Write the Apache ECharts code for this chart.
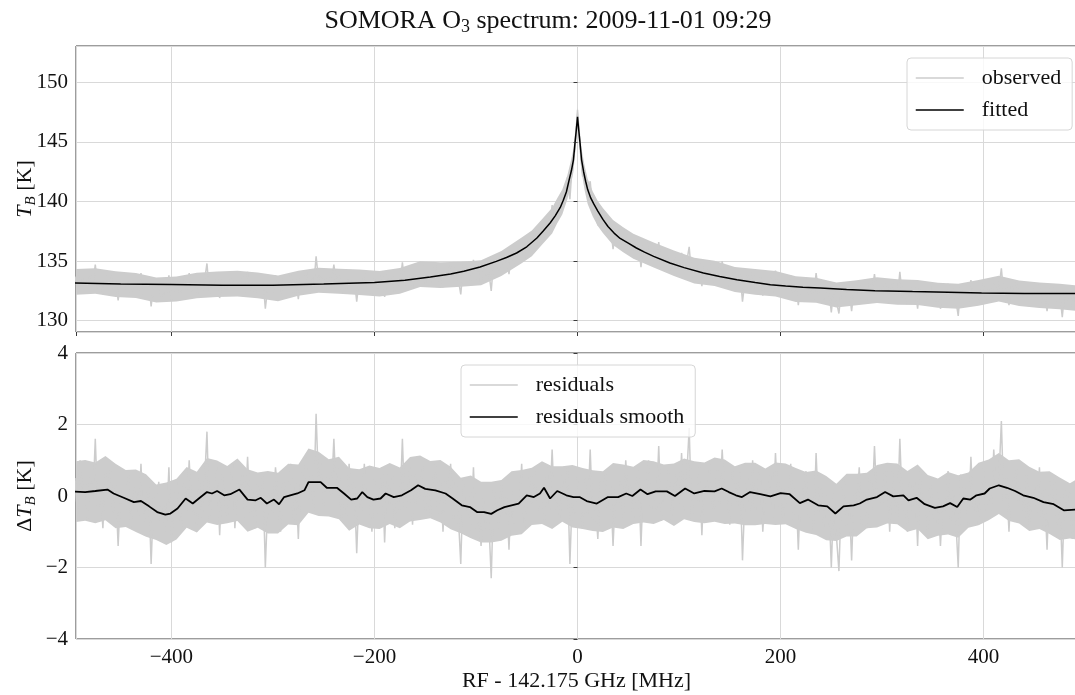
<!DOCTYPE html>
<html><head><meta charset="utf-8">
<script src="https://cdn.jsdelivr.net/npm/echarts@6/dist/echarts.min.js"></script>
<style>html,body{margin:0;padding:0;background:#fff}#c{width:1075px;height:695px}</style>
</head><body><div id="c"></div>
<script>
// Spectrometer channel grid (MHz offset from 142.175 GHz)
const chanStartMHz = -495;
const chanStepMHz = 2.5;

// Observed brightness temperature T_B [K], one value per channel
const observed = [
133.7,132.7,134.2,133.2,133.6,132.5,133.9,133.0,134.7,132.7,133.3,132.2,133.8,133.0,134.0,132.6,133.4,131.7,133.3,132.7,
132.7,133.7,132.2,133.1,133.4,132.5,134.0,132.2,133.0,133.4,131.2,133.0,132.5,133.4,131.9,132.8,132.0,133.8,131.7,132.7,
133.4,132.5,132.1,133.5,132.5,134.0,132.5,132.9,132.0,133.5,132.4,133.3,134.8,132.3,133.2,132.8,133.8,131.9,133.6,132.9,
132.4,133.4,133.9,132.1,133.4,133.1,133.7,132.4,134.1,132.5,133.2,132.1,133.4,132.6,133.6,131.0,132.9,133.2,132.4,133.8,
133.0,132.0,133.5,133.1,132.7,133.9,132.3,133.5,131.8,133.7,133.1,134.2,133.0,133.8,132.7,135.4,133.3,134.0,132.8,133.6,
133.6,133.1,134.7,133.0,133.9,132.4,133.4,132.5,134.0,132.9,133.6,131.6,133.5,132.7,134.1,132.9,133.2,132.2,133.7,132.7,
133.0,134.1,132.0,133.9,133.0,133.9,132.4,133.4,132.9,134.9,132.9,133.4,134.2,132.7,134.1,133.3,133.7,134.6,133.1,134.1,
133.1,134.1,134.6,133.3,134.3,132.8,134.3,133.8,134.8,133.3,134.5,133.5,132.2,134.6,133.8,134.2,133.3,135.1,133.5,134.1,
133.1,134.6,133.8,134.2,132.5,135.1,134.9,134.2,135.5,134.6,135.4,133.9,135.8,134.8,135.6,135.4,136.8,135.2,135.9,137.0,
136.4,137.6,136.3,137.1,137.8,137.0,138.7,137.8,139.7,138.2,139.3,138.7,140.5,140.2,142.0,140.2,143.3,144.4,147.7,144.6,
142.1,142.4,140.5,141.7,139.3,139.5,138.0,139.3,138.2,138.9,137.3,138.0,136.0,137.4,136.8,137.3,136.2,137.6,136.4,136.7,
135.6,136.3,136.7,134.5,136.3,135.7,136.6,135.0,135.8,134.9,136.6,134.4,135.3,134.8,135.7,134.1,134.9,135.3,134.3,135.7,
134.1,134.9,136.2,133.6,134.4,134.0,134.9,132.9,134.6,133.9,134.8,133.7,133.2,134.6,133.5,135.0,133.5,133.8,132.8,134.2,
134.0,133.1,134.1,131.6,133.4,133.8,132.9,134.2,132.7,133.6,133.9,132.1,133.3,133.0,133.6,132.4,134.2,132.7,133.3,132.2,
133.1,132.6,133.8,132.2,133.1,131.3,133.2,132.5,133.5,132.2,132.9,131.8,134.0,132.3,132.9,131.8,132.7,132.6,130.7,132.8,
131.6,130.6,132.8,133.2,131.7,132.6,130.8,132.8,132.3,133.4,131.8,132.7,131.7,133.1,132.2,133.9,132.3,132.8,132.2,133.2,
133.2,131.5,133.2,132.4,131.9,134.1,132.0,132.5,131.4,132.9,132.0,132.8,131.0,133.1,132.1,132.5,131.4,132.9,131.9,131.6,
132.5,131.0,132.4,132.0,133.1,131.6,132.7,131.8,130.4,132.9,132.1,132.5,131.5,133.4,131.8,132.4,131.5,132.5,133.1,131.8,
132.6,131.9,133.6,132.4,132.7,134.4,132.0,132.8,131.3,132.9,132.2,133.2,131.9,132.6,131.6,132.9,131.5,132.2,132.7,131.8,
133.1,131.4,132.5,130.8,132.7,132.0,132.8,131.5,132.3,130.3,132.5,131.7,132.4,131.1,132.2,132.1,131.1,132.5,132.0,131.6
];

// Solid core of the observed trace (where the dense gray is unbroken)
const obsCoreFreq = [-495,-475,-455,-435,-415,-395,-375,-355,-335,-315,-295,-275,-255,-235,-215,-195,-175,-155,-135,-115,-95,-75,-55,-45,-35,-25,-20,-15,-10,-7,-4,-2,0,2,4,7,10,15,20,25,35,45,55,75,95,115,135,155,175,195,215,235,255,275,295,315,335,355,375,395,415,435,455,475,495,505];
const obsCoreHigh = [134.33,134.41,134.14,134.00,133.62,133.71,134.03,134.13,134.18,134.04,133.79,134.20,134.45,134.35,134.30,134.17,134.42,134.98,134.90,134.95,135.08,135.84,136.97,137.56,138.52,139.47,140.27,141.0,142.2,143.25,144.4,146.2,147.9,146.2,144.4,143.0,141.9,140.85,140.05,139.45,138.45,137.85,137.3,136.57,135.89,135.28,135.02,134.50,134.33,134.17,133.72,133.61,133.21,133.40,133.64,133.48,133.41,133.19,133.10,133.41,133.76,133.38,133.21,133.10,132.94,132.94];
const obsCoreLow = [132.18,132.26,131.99,131.90,131.52,131.61,131.88,131.98,132.03,131.89,131.64,132.10,132.35,132.25,132.15,132.02,132.27,132.83,132.75,132.85,132.98,133.74,134.82,135.41,136.37,137.32,138.17,138.9,140.2,141.25,142.5,144.4,146.2,144.4,142.5,140.95,139.8,138.75,137.95,137.35,136.35,135.75,135.2,134.47,133.74,133.13,132.92,132.40,132.18,132.02,131.57,131.51,131.11,131.30,131.49,131.33,131.31,131.09,131.00,131.26,131.61,131.23,131.06,130.95,130.79,130.79];

// Residuals ΔT_B [K], one value per channel
const residuals = [
0.5,-0.5,1.0,0.0,0.4,-0.7,0.7,-0.2,1.6,-0.4,0.2,-0.9,0.7,-0.1,0.9,-0.5,0.3,-1.4,0.2,-0.4,
-0.4,0.6,-0.9,0.0,0.3,-0.6,0.9,-0.9,-0.1,0.3,-1.9,0.0,-0.5,0.4,-1.1,-0.2,-1.0,0.8,-1.3,-0.3,
0.4,-0.5,-0.9,0.5,-0.5,1.0,-0.5,-0.1,-1.0,0.5,-0.6,0.3,1.8,-0.7,0.2,-0.2,0.8,-1.1,0.6,-0.1,
-0.6,0.4,0.9,-0.9,0.4,0.1,0.7,-0.6,1.1,-0.5,0.2,-0.9,0.4,-0.4,0.6,-2.0,-0.1,0.2,-0.6,0.8,
0.0,-1.0,0.5,0.1,-0.3,0.9,-0.7,0.5,-1.2,0.7,0.1,1.1,-0.1,0.7,-0.4,2.3,0.2,0.9,-0.3,0.5,
0.5,0.0,1.6,-0.1,0.8,-0.7,0.3,-0.6,0.9,-0.2,0.4,-1.6,0.3,-0.5,0.9,-0.3,0.0,-1.0,0.5,-0.5,
-0.2,0.8,-1.3,0.6,-0.3,0.6,-0.9,0.1,-0.4,1.6,-0.5,0.0,0.8,-0.8,0.6,-0.2,0.1,1.0,-0.5,0.5,
-0.6,0.4,0.9,-0.5,0.5,-1.0,0.4,-0.1,0.9,-0.7,0.5,-0.5,-1.9,0.5,-0.4,0.0,-1.0,0.8,-0.9,-0.4,
-1.4,0.0,-0.9,-0.6,-2.3,0.2,-0.1,-0.9,0.4,-0.6,0.1,-1.5,0.3,-0.8,-0.1,-0.4,0.9,-0.9,-0.3,0.6,
-0.2,0.8,-0.6,-0.1,0.4,-0.7,0.8,-0.4,1.3,-0.5,0.2,-0.7,0.6,-0.3,0.8,-1.9,0.2,-0.5,0.6,-0.3,
-0.9,0.5,-0.5,1.3,-0.7,-0.1,-1.2,0.4,-0.3,0.7,-0.6,0.3,-1.4,0.2,-0.3,0.4,-0.6,1.0,-0.1,0.3,
-0.7,0.2,0.7,-1.4,0.5,0.0,1.0,-0.5,0.4,-0.4,1.4,-0.7,0.2,-0.2,0.8,-0.7,0.2,0.6,-0.3,1.2,
-0.4,0.5,1.9,-0.7,0.2,-0.2,0.8,-1.1,0.6,0.0,0.9,-0.1,-0.6,0.8,-0.2,1.3,-0.1,0.2,-0.8,0.7,
0.5,-0.3,0.7,-1.8,0.1,0.5,-0.4,1.0,-0.5,0.4,0.8,-1.0,0.2,-0.1,0.6,-0.6,1.2,-0.3,0.4,-0.7,
0.2,-0.3,0.9,-0.7,0.3,-1.5,0.4,-0.3,0.7,-0.6,0.1,-1.0,1.2,-0.5,0.2,-0.9,0.0,-0.1,-2.0,0.1,
-1.1,-2.1,0.1,0.5,-0.9,0.0,-1.8,0.2,-0.3,0.8,-0.8,0.1,-0.9,0.5,-0.4,1.4,-0.2,0.3,-0.3,0.7,
0.7,-1.0,0.7,-0.1,-0.6,1.6,-0.4,0.1,-1.0,0.5,-0.4,0.4,-1.4,0.7,-0.3,0.1,-1.0,0.5,-0.5,-0.8,
0.1,-1.4,0.0,-0.4,0.7,-0.8,0.3,-0.6,-2.0,0.6,-0.2,0.2,-0.8,1.1,-0.5,0.1,-0.8,0.2,0.8,-0.5,
0.3,-0.4,1.3,0.1,0.4,2.1,-0.3,0.5,-1.0,0.6,-0.1,0.9,-0.4,0.3,-0.7,0.6,-0.8,-0.1,0.4,-0.5,
0.8,-0.9,0.2,-1.5,0.4,-0.3,0.5,-0.8,0.0,-2.0,0.2,-0.6,0.1,-1.2,-0.1,-0.2,-1.2,0.2,-0.3,-0.7
];

// Solid core of the residual trace, every 10 MHz from -495 MHz
const resCoreStartMHz = -495;
const resCoreStepMHz = 10;
const resCoreHigh = [0.97,1.01,0.94,1.12,0.90,0.73,0.74,0.61,0.32,0.38,0.48,0.81,0.68,1.06,0.99,0.84,1.05,0.75,0.66,0.70,0.65,0.90,0.88,1.33,1.24,1.03,1.10,0.78,0.75,0.85,0.78,0.92,0.80,1.09,1.13,0.98,1.01,0.82,0.51,0.57,0.40,0.40,0.45,0.69,0.73,0.79,0.97,0.83,0.83,0.87,0.78,0.72,0.69,0.92,0.88,0.82,1.01,0.97,0.88,0.91,1.05,0.97,0.94,1.08,1.02,0.83,0.93,0.93,0.77,0.94,0.91,0.78,0.67,0.71,0.56,0.34,0.62,0.62,0.65,0.87,0.93,0.91,0.70,0.88,0.59,0.49,0.67,0.58,0.66,0.93,1.02,1.20,1.00,1.03,0.82,0.68,0.69,0.52,0.36,0.52,0.47];
const resCoreLow = [-0.73,-0.69,-0.76,-0.68,-0.90,-0.87,-1.01,-1.14,-1.23,-1.37,-1.22,-0.89,-1.02,-0.74,-0.81,-0.76,-0.70,-1.00,-0.89,-1.05,-1.05,-0.80,-0.82,-0.47,-0.56,-0.57,-0.65,-0.97,-0.80,-0.90,-0.92,-0.78,-0.90,-0.71,-0.67,-0.62,-0.74,-0.93,-1.04,-1.18,-1.30,-1.30,-1.25,-1.11,-1.07,-0.81,-0.78,-0.92,-0.72,-0.88,-0.92,-0.98,-1.01,-0.88,-0.92,-0.78,-0.74,-0.78,-0.67,-0.84,-0.65,-0.73,-0.76,-0.72,-0.78,-0.77,-0.82,-0.82,-0.78,-0.81,-0.79,-0.92,-1.03,-1.09,-1.24,-1.26,-1.13,-1.13,-0.90,-0.88,-0.77,-0.79,-1.00,-0.92,-1.21,-1.11,-1.08,-1.17,-0.89,-0.82,-0.68,-0.50,-0.70,-0.77,-0.98,-0.92,-1.06,-1.23,-1.19,-1.23,-1.23];

// Fitted spectrum
const fittedFreq = [-495,-450,-400,-350,-300,-250,-200,-170,-145,-125,-112,-96,-80,-70,-60,-50,-40,-34,-27,-22,-17,-14,-11,-8,-6,-4,-2.5,-1.2,0,1.2,2.5,4,6,8,10,13,16,20,25,30,36,42,50,58,66,75,91,105,124,140,157,175,190,205,222,239,265,293,330,365,398,440,492];
const fittedTB = [133.16,133.08,133.03,132.98,132.98,133.07,133.21,133.4,133.66,133.92,134.14,134.5,134.98,135.3,135.68,136.2,136.94,137.5,138.2,138.8,139.5,140.1,140.8,141.9,142.6,143.5,144.9,146.0,147.1,146.0,144.9,143.5,142.5,141.7,141.0,140.3,139.8,139.2,138.5,137.9,137.35,136.9,136.5,136.1,135.75,135.4,134.84,134.45,134.0,133.7,133.44,133.2,133.02,132.9,132.8,132.74,132.62,132.52,132.44,132.38,132.32,132.29,132.27];

// Smoothed residuals (in the lower panel)
const smoothFreq = [-495,-485,-475,-463,-457,-447,-437,-430,-422,-414,-406,-401,-394,-386,-379,-373,-365,-360,-355,-348,-342,-333,-325,-317,-312,-306,-299,-294,-289,-283,-276,-269,-265,-253,-247,-237,-230,-223,-217,-212,-207,-201,-194,-189,-181,-173,-164,-157,-150,-140,-130,-123,-114,-106,-99,-92,-85,-79,-72,-65,-58,-50,-43,-37,-33,-27,-20,-11,-4,2,9,19,30,40,48,54,62,69,77,88,96,106,115,125,135,142,149,156,162,170,180,190,200,209,219,227,237,246,254,262,272,278,285,295,303,311,321,326,334,342,352,360,367,374,380,387,393,401,406,415,423,431,439,449,459,469,479,492];
const smoothRes = [0.12,0.11,0.14,0.18,0.07,-0.05,-0.17,-0.14,-0.29,-0.45,-0.52,-0.49,-0.35,-0.07,-0.21,-0.07,0.11,0.07,0.14,0.02,0.05,0.18,-0.1,-0.12,-0.05,-0.21,-0.1,-0.23,-0.03,0.02,0.07,0.16,0.39,0.39,0.23,0.23,0.07,-0.1,-0.07,0.11,-0.03,-0.1,-0.07,0.07,-0.03,0.02,0.16,0.3,0.2,0.16,0.07,-0.07,-0.26,-0.31,-0.45,-0.45,-0.5,-0.4,-0.31,-0.26,-0.21,0.02,-0.03,0.07,0.23,-0.07,0.14,0.02,-0.03,-0.03,-0.14,-0.21,-0.03,-0.03,0.07,0,0.18,0.05,0.13,0.13,0,0.21,0.07,0.14,0.13,0.21,0.11,0.02,-0.03,0.11,0.05,-0.01,0.08,0.05,-0.2,-0.1,-0.26,-0.29,-0.49,-0.29,-0.26,-0.21,-0.1,-0.03,0.11,-0.01,0.02,-0.12,-0.05,-0.23,-0.33,-0.29,-0.2,-0.31,-0.07,-0.1,0.02,0.07,0.21,0.3,0.23,0.14,0.02,-0.05,-0.17,-0.23,-0.4,-0.38];

const titleText = 'SOMORA O{sub|3} spectrum: 2009-11-01 09:29';
const xName = 'RF - 142.175 GHz [MHz]';
const yNameTop = '{i|T}{s|B} [K]';
const yNameBottom = '\u0394{i|T}{s|B} [K]';

const FONT = 'Liberation Serif';
const TXT = '#111111';
const GRIDC = '#d9d9d9';
const SPINE = '#3a3a3a';
const NOISE = '#cccccc';

const chanFreq = i => chanStartMHz + i * chanStepMHz;
const resCoreFreq = resCoreHigh.map((_, k) => resCoreStartMHz + k * resCoreStepMHz);
const minus = v => String(v).replace('-', '\u2212');

// Core band polygon: upper edge forward, lower edge back, every vertex through the axes' scales
const coreRender = (freqs, hi, lo) => (params, api) => {
  const pts = [];
  for (let i = 0; i < freqs.length; i++) pts.push(api.coord([freqs[i], hi[i]]));
  for (let i = freqs.length - 1; i >= 0; i--) pts.push(api.coord([freqs[i], lo[i]]));
  return { type: 'polygon', shape: { points: pts }, style: { fill: NOISE } };
};

const nameRich = {
  i: { fontFamily: FONT, fontStyle: 'italic', fontSize: 22, lineHeight: 28, color: TXT },
  s: { fontFamily: FONT, fontStyle: 'italic', fontSize: 15, lineHeight: 14, verticalAlign: 'bottom', color: TXT }
};
const nameStyle = { fontFamily: FONT, fontSize: 22, color: TXT, lineHeight: 28, rich: nameRich };
const tickStyle = { show: true, length: 4, lineStyle: { color: SPINE, width: 1 } };
const split = { show: true, lineStyle: { color: GRIDC, width: 1 } };
const labelStyle = { fontFamily: FONT, fontSize: 21, color: TXT, formatter: minus, showMinLabel: false, showMaxLabel: false };

const legendCommon = {
  orient: 'vertical', itemWidth: 48, itemHeight: 22, itemGap: 10,
  padding: [9, 11, 9, 8],
  backgroundColor: 'rgba(255,255,255,0.8)', borderColor: '#d6d6d6', borderWidth: 1, borderRadius: 4,
  selectedMode: false,
  itemStyle: { color: 'transparent', borderWidth: 0, opacity: 0 },
  lineStyle: { width: 1.5 },
  textStyle: { fontFamily: FONT, fontSize: 22, color: TXT, lineHeight: 22, rich: { g: { width: 13 } } },
  formatter: n => '{g| }' + n
};

const gridCommon = { left: 76, right: -2, height: 286, show: true, borderColor: SPINE, borderWidth: 1,
  backgroundColor: 'transparent', containLabel: false, outerBoundsMode: 'none' };

const chart = echarts.init(document.getElementById('c'), null, { renderer: 'canvas' });
chart.setOption({
  animation: false,
  backgroundColor: '#ffffff',
  title: {
    text: titleText, left: 548, top: 6, textAlign: 'center', padding: 0,
    textStyle: { fontFamily: FONT, fontSize: 26, fontWeight: 'normal', color: TXT, lineHeight: 30,
      rich: { sub: { fontFamily: FONT, fontSize: 18, lineHeight: 16, verticalAlign: 'bottom', color: TXT } } }
  },
  legend: [
    Object.assign({}, legendCommon, { data: ['observed', 'fitted'], left: 907, top: 58 }),
    Object.assign({}, legendCommon, { data: ['residuals', 'residuals smooth'], left: 461, top: 365 })
  ],
  grid: [
    Object.assign({}, gridCommon, { top: 46 }),
    Object.assign({}, gridCommon, { top: 353 })
  ],
  xAxis: [
    { type: 'value', gridIndex: 0, min: -494, max: 492, axisLine: { show: false }, axisTick: tickStyle,
      axisLabel: { show: false }, splitLine: split },
    { type: 'value', gridIndex: 1, min: -494, max: 492, axisLine: { show: false }, axisTick: tickStyle,
      axisLabel: Object.assign({ margin: 8 }, labelStyle), splitLine: split,
      name: xName, nameLocation: 'middle', nameGap: 31,
      nameTextStyle: { fontFamily: FONT, fontSize: 22, color: TXT } }
  ],
  yAxis: [
    { type: 'value', gridIndex: 0, min: 129.05, max: 153.05, axisLine: { show: false }, axisTick: tickStyle,
      axisLabel: Object.assign({ margin: 8 }, labelStyle), splitLine: split,
      name: yNameTop, nameLocation: 'middle', nameGap: 37, nameRotate: 90, nameMoveOverlap: false, nameTextStyle: nameStyle },
    { type: 'value', gridIndex: 1, min: -4, max: 4, interval: 2, axisLine: { show: false }, axisTick: tickStyle,
      axisLabel: Object.assign({ margin: 8 }, labelStyle, { showMinLabel: true, showMaxLabel: true }), splitLine: split,
      name: yNameBottom, nameLocation: 'middle', nameGap: 37, nameRotate: 90, nameMoveOverlap: false, nameTextStyle: nameStyle }
  ],
  series: [
    { name: 'observed core', type: 'custom', xAxisIndex: 0, yAxisIndex: 0, silent: true, clip: true, z: 1,
      renderItem: coreRender(obsCoreFreq, obsCoreHigh, obsCoreLow), data: [[obsCoreFreq[0], obsCoreHigh[0]]] },
    { name: 'observed', type: 'line', xAxisIndex: 0, yAxisIndex: 0, symbol: 'none', silent: true, z: 2,
      data: observed.map((v, i) => [chanFreq(i), v]),
      lineStyle: { color: NOISE, width: 1.5, join: 'bevel' }, itemStyle: { color: NOISE } },
    { name: 'fitted', type: 'line', xAxisIndex: 0, yAxisIndex: 0, symbol: 'none', silent: true, z: 3,
      data: fittedFreq.map((f, i) => [f, fittedTB[i]]),
      lineStyle: { color: '#000000', width: 1.5 }, itemStyle: { color: '#000000' } },
    { name: 'residuals core', type: 'custom', xAxisIndex: 1, yAxisIndex: 1, silent: true, clip: true, z: 1,
      renderItem: coreRender(resCoreFreq, resCoreHigh, resCoreLow), data: [[resCoreFreq[0], resCoreHigh[0]]] },
    { name: 'residuals', type: 'line', xAxisIndex: 1, yAxisIndex: 1, symbol: 'none', silent: true, z: 2,
      data: residuals.map((v, i) => [chanFreq(i), v]),
      lineStyle: { color: NOISE, width: 1.5, join: 'bevel' }, itemStyle: { color: NOISE } },
    { name: 'residuals smooth', type: 'line', xAxisIndex: 1, yAxisIndex: 1, symbol: 'none', silent: true, z: 3,
      data: smoothFreq.map((f, i) => [f, smoothRes[i]]),
      lineStyle: { color: '#000000', width: 1.8 }, itemStyle: { color: '#000000' } }
  ]
});
</script>
</body></html>
